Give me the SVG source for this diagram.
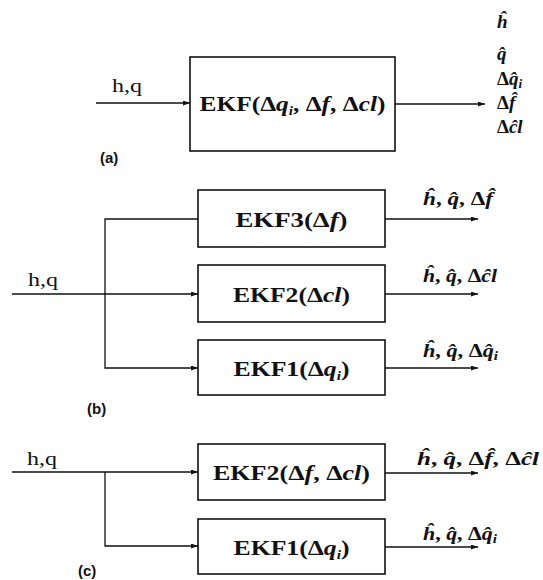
<svg xmlns="http://www.w3.org/2000/svg" width="543" height="580" viewBox="0 0 543 580">
  <style>
    .box { fill: #fff; stroke: #111; stroke-width: 1.6; }
    .wire { fill: none; stroke: #111; stroke-width: 1.3; }
    .ekf { font-family: "Liberation Serif", "DejaVu Serif", serif; font-weight: bold; font-size: 22px; fill: #111; text-anchor: middle; }
    .out { font-family: "Liberation Serif", "DejaVu Serif", serif; font-weight: bold; font-size: 19px; fill: #111; }
    .in { font-family: "Liberation Serif", "DejaVu Serif", serif; font-size: 19px; fill: #111; }
    .tag { font-family: "Liberation Sans", "DejaVu Sans", sans-serif; font-weight: bold; font-size: 15px; fill: #111; }
    .mi { font-style: italic; }
    .sub { font-style: italic; font-size: 13px; }
  </style>
  <defs>
    <marker id="ah" markerWidth="7" markerHeight="5" refX="7" refY="2.5" orient="auto" markerUnits="userSpaceOnUse">
      <path d="M0,0 L7,2.5 L0,5 z" fill="#111"/>
    </marker>
  </defs>

  <!-- connectors -->
  <g id="connectors" class="wire">
    <!-- (a) -->
    <line x1="96" y1="103" x2="190" y2="103" marker-end="url(#ah)"/>
    <line x1="395" y1="104" x2="485" y2="104" marker-end="url(#ah)"/>
    <!-- (b) -->
    <line x1="12" y1="294" x2="198" y2="294" marker-end="url(#ah)"/>
    <path d="M198,219 H105 V368 H198" marker-end="url(#ah)"/>
    <line x1="385" y1="219" x2="478" y2="219" marker-end="url(#ah)"/>
    <line x1="385" y1="294" x2="478" y2="294" marker-end="url(#ah)"/>
    <line x1="385" y1="368" x2="478" y2="368" marker-end="url(#ah)"/>
    <!-- (c) -->
    <line x1="12" y1="472" x2="198" y2="472" marker-end="url(#ah)"/>
    <path d="M105,472 V546 H198" marker-end="url(#ah)"/>
    <line x1="385" y1="473" x2="478" y2="473" marker-end="url(#ah)"/>
    <line x1="385" y1="547" x2="478" y2="547" marker-end="url(#ah)"/>
  </g>

  <!-- (a) single filter -->
  <g id="ekf-a">
    <rect class="box" x="190" y="57" width="205" height="94"/>
    <text class="ekf" x="292.5" y="111" textLength="186" lengthAdjust="spacingAndGlyphs">EKF(Δ<tspan class="mi">q</tspan><tspan class="sub" dy="4">i</tspan><tspan dy="-4">, Δ</tspan><tspan class="mi">f</tspan>, Δ<tspan class="mi">cl</tspan>)</text>
  </g>
  <g id="labels-a">
    <text class="in" x="112" y="92" textLength="30" lengthAdjust="spacingAndGlyphs">h,q</text>
    <text class="out" x="497" y="28"><tspan class="mi">h&#x302;</tspan></text>
    <text class="out" x="497" y="60"><tspan class="mi">q&#x302;</tspan></text>
    <text class="out" x="497" y="85">Δ<tspan class="mi">q&#x302;</tspan><tspan class="sub" dy="3">i</tspan></text>
    <text class="out" x="497" y="109">Δ<tspan class="mi">f&#x302;</tspan></text>
    <text class="out" x="497" y="133">Δ<tspan class="mi">c&#x302;l</tspan></text>
    <text class="tag" x="100" y="163">(a)</text>
  </g>

  <!-- (b) three parallel filters -->
  <g id="ekf3-b">
    <rect class="box" x="198" y="190" width="187" height="57"/>
    <text class="ekf" x="291.5" y="227" textLength="112" lengthAdjust="spacingAndGlyphs">EKF3(Δ<tspan class="mi">f</tspan>)</text>
  </g>
  <g id="ekf2-b">
    <rect class="box" x="198" y="265" width="187" height="57"/>
    <text class="ekf" x="291.5" y="302" textLength="117" lengthAdjust="spacingAndGlyphs">EKF2(Δ<tspan class="mi">cl</tspan>)</text>
  </g>
  <g id="ekf1-b">
    <rect class="box" x="198" y="340" width="187" height="55"/>
    <text class="ekf" x="291.5" y="376" textLength="116" lengthAdjust="spacingAndGlyphs">EKF1(Δ<tspan class="mi">q</tspan><tspan class="sub" dy="4">i</tspan><tspan dy="-4">)</tspan></text>
  </g>
  <g id="labels-b">
    <text class="in" x="28" y="286" textLength="30" lengthAdjust="spacingAndGlyphs">h,q</text>
    <text class="out" x="423" y="205" textLength="70" lengthAdjust="spacingAndGlyphs"><tspan class="mi">h&#x302;</tspan>, <tspan class="mi">q&#x302;</tspan>, Δ<tspan class="mi">f&#x302;</tspan></text>
    <text class="out" x="423" y="282" textLength="74" lengthAdjust="spacingAndGlyphs"><tspan class="mi">h&#x302;</tspan>, <tspan class="mi">q&#x302;</tspan>, Δ<tspan class="mi">c&#x302;l</tspan></text>
    <text class="out" x="423" y="357" textLength="75" lengthAdjust="spacingAndGlyphs"><tspan class="mi">h&#x302;</tspan>, <tspan class="mi">q&#x302;</tspan>, Δ<tspan class="mi">q&#x302;</tspan><tspan class="sub" dy="3">i</tspan></text>
    <text class="tag" x="87" y="414">(b)</text>
  </g>

  <!-- (c) two parallel filters -->
  <g id="ekf2-c">
    <rect class="box" x="198" y="444" width="187" height="56"/>
    <text class="ekf" x="291.5" y="480" textLength="157" lengthAdjust="spacingAndGlyphs">EKF2(Δ<tspan class="mi">f</tspan>, Δ<tspan class="mi">cl</tspan>)</text>
  </g>
  <g id="ekf1-c">
    <rect class="box" x="198" y="519" width="187" height="55"/>
    <text class="ekf" x="291.5" y="555" textLength="116" lengthAdjust="spacingAndGlyphs">EKF1(Δ<tspan class="mi">q</tspan><tspan class="sub" dy="4">i</tspan><tspan dy="-4">)</tspan></text>
  </g>
  <g id="labels-c">
    <text class="in" x="27" y="465" textLength="30" lengthAdjust="spacingAndGlyphs">h,q</text>
    <text class="out" x="417" y="465" textLength="122" lengthAdjust="spacingAndGlyphs"><tspan class="mi">h&#x302;</tspan>, <tspan class="mi">q&#x302;</tspan>, Δ<tspan class="mi">f&#x302;</tspan>, Δ<tspan class="mi">c&#x302;l</tspan></text>
    <text class="out" x="423" y="540" textLength="74" lengthAdjust="spacingAndGlyphs"><tspan class="mi">h&#x302;</tspan>, <tspan class="mi">q&#x302;</tspan>, Δ<tspan class="mi">q&#x302;</tspan><tspan class="sub" dy="3">i</tspan></text>
    <text class="tag" x="78" y="576">(c)</text>
  </g>
</svg>
